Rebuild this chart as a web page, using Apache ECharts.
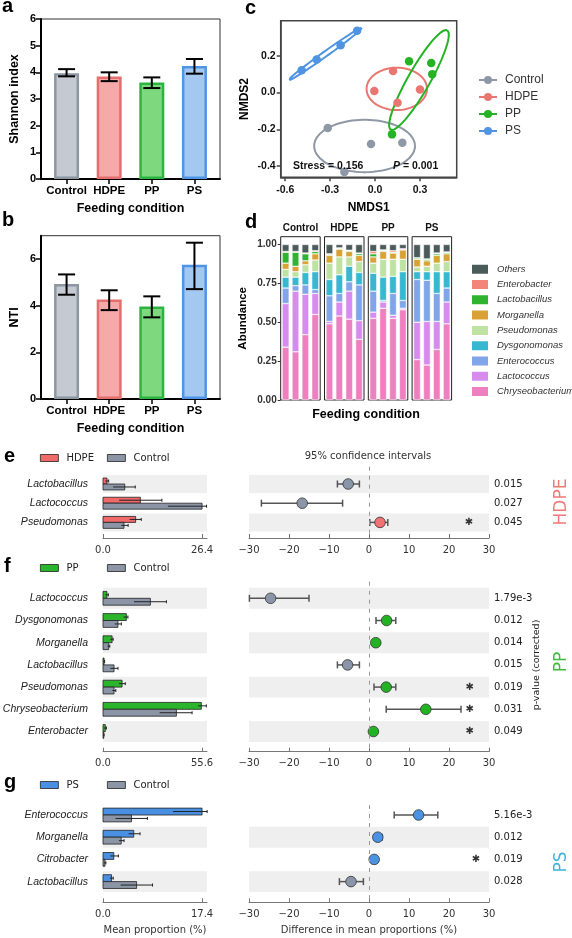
<!DOCTYPE html>
<html><head><meta charset="utf-8">
<script src="https://cdn.jsdelivr.net/npm/echarts@6/dist/echarts.min.js"></script>
<style>html,body{margin:0;padding:0;background:#fff}#c{width:572px;height:938px}</style>
</head><body><div id="c"></div>
<script>
// ---------------- DATA ----------------
const groups = ['Control', 'HDPE', 'PP', 'PS'];
// panel a
const shannonMean = [3.97, 3.84, 3.62, 4.24];
const shannonLo = [3.85, 3.67, 3.41, 3.95];
const shannonHi = [4.12, 4.00, 3.81, 4.50];
// panel b
const ntiMean = [4.93, 4.27, 3.97, 5.76];
const ntiLo = [4.47, 3.81, 3.50, 4.71];
const ntiHi = [5.34, 4.66, 4.40, 6.70];
// panel c (NMDS1, NMDS2)
const nmdsControl = [[-0.316, -0.192], [-0.027, -0.279], [0.182, -0.272], [-0.205, -0.431]];
const nmdsHDPE = [[-0.005, 0.009], [0.12, 0.117], [0.15, -0.056], [0.30, 0.016]];
const nmdsPP = [[0.227, 0.17], [0.375, 0.161], [0.382, 0.10], [0.113, -0.227]];
const nmdsPS = [[-0.49, 0.121], [-0.39, 0.18], [-0.23, 0.257], [-0.12, 0.335]];
// confidence ellipses: centre, conjugate semi-axis vectors (data units)
const ellCenter = [[-0.07, -0.29], [0.145, 0.02], [0.293, 0.068], [-0.333, 0.209]];
const ellAxisA = [[0.337, 0], [0.202, 0], [0.189, 0.270], [0.2445, 0.142]];
const ellAxisB = [[0, 0.142], [0, 0.115], [0.0637, -0.0296], [0.0097, -0.011]];
const stressText = 'Stress = 0.156';
const pText = ' = 0.001';
// panel d (4 samples per condition, Control, HDPE, PP, PS)
const dSamples = ['1', '2', '3', '4'];
const dGenera = ['Chryseobacterium', 'Lactococcus', 'Enterococcus', 'Dysgonomonas', 'Pseudomonas', 'Morganella', 'Lactobacillus', 'Enterobacter', 'Others'];
const dChryseobacterium = [.34, .31, .42, .55, .49, .54, .52, .39, .525, .59, .525, .58, .26, .225, .325, .49];
const dLactococcus = [.28, .39, .26, .135, .015, .09, .18, .12, .04, .04, .02, .01, .24, .28, .18, .14];
const dEnterococcus = [.10, .035, .06, .025, .165, .055, .06, .23, .135, .01, .14, .05, .275, .265, .18, .09];
const dDysgonomonas = [.07, .055, .08, .115, .105, .12, .10, .08, .115, .15, .11, .185, .05, .055, .14, .105];
const dPseudomonas = [.05, .035, .05, .075, .105, .115, .06, .07, .065, .115, .11, .08, .03, .035, .055, .065];
const dMorganella = [.04, .035, .025, .04, .05, .05, .035, .04, .04, .05, .04, .06, .05, .035, .05, .05];
const dLactobacillus = [.07, .09, .045, .015, .005, .005, .005, .012, .02, .005, .005, .003, .008, .01, .01, .008];
const dEnterobacter = [.005, .005, .005, .005, .005, .003, .003, .003, .015, .005, .01, .005, .002, .002, .005, .004];
const dOthers = [.045, .045, .055, .04, .06, .022, .037, .055, .045, .035, .04, .027, .085, .093, .055, .048];
const dYTicks = [0, 0.25, 0.5, 0.75, 1];
// panel e (HDPE vs Control)
const eRows = ['Lactobacillus', 'Lactococcus', 'Pseudomonas'];
const eTreat = [1.07, 9.96, 8.7], eTreatLo = [0.6, 4.3, 7.1], eTreatHi = [1.5, 15.7, 10.2];
const eCtrl = [5.8, 26.4, 5.6], eCtrlLo = [2.7, 17.3, 4.9], eCtrlHi = [8.6, 27.6, 6.7];
const eDiff = [-5.2, -16.7, 2.75], eDiffLo = [-7.9, -26.9, 0.2], eDiffHi = [-2.4, -6.6, 4.7];
const ePval = ['0.015', '0.027', '0.045'];
const eStar = [null, null, 25];
const eShade = [1, 0, 1];
const eAxisMax = 26.4;
// panel f (PP vs Control)
const fRows = ['Lactococcus', 'Dysgonomonas', 'Morganella', 'Lactobacillus', 'Pseudomonas', 'Chryseobacterium', 'Enterobacter'];
const fTreat = [2.2, 13.1, 5.1, 0.6, 10.7, 55.2, 1.3], fTreatLo = [1.4, 11.6, 4.1, 0.3, 9.0, 53.4, 0.6], fTreatHi = [3.0, 14.0, 5.7, 0.9, 12.5, 58.0, 1.9];
const fCtrl = [26.6, 8.4, 3.2, 6.2, 6.2, 41.2, 0.4], fCtrlLo = [17.4, 6.6, 2.5, 4.1, 5.3, 31.8, 0.2], fCtrlHi = [35.6, 10.3, 3.8, 8.4, 7.2, 50.0, 0.6];
const fDiff = [-24.6, 4.4, 1.7, -5.35, 4.3, 14.2, 1.1], fDiffLo = [-29.9, 1.75, 1.2, -7.9, 1.25, 4.3, 0.8], fDiffHi = [-15.0, 6.7, 2.2, -2.4, 6.7, 23.0, 1.4];
const fPval = ['1.79e-3', '0.012', '0.014', '0.015', '0.019', '0.031', '0.049'];
const fStar = [null, null, null, null, 25.2, 25.2, 25.2];
const fShade = [1, 0, 1, 0, 1, 0, 1];
const fAxisMax = 55.6;
// panel g (PS vs Control)
const gRows = ['Enterococcus', 'Morganella', 'Citrobacter', 'Lactobacillus'];
const gTreat = [17.4, 5.4, 1.9, 1.5], gTreatLo = [12.3, 4.5, 1.3, 1.2], gTreatHi = [18.3, 6.5, 2.7, 1.8];
const gCtrl = [5.0, 3.2, 0.35, 5.9], gCtrlLo = [2.2, 2.8, 0.2, 3.1], gCtrlHi = [7.8, 3.7, 0.5, 8.7];
const gDiff = [12.4, 2.2, 1.3, -4.5], gDiffLo = [6.3, 1.3, 1.0, -7.4], gDiffHi = [17.2, 3.3, 1.6, -1.4];
const gPval = ['5.16e-3', '0.012', '0.019', '0.028'];
const gStar = [null, null, 26.75, null];
const gShade = [0, 1, 0, 1];
const gAxisMax = 17.4;
const ciTicks = [-30, -20, -10, 0, 10, 20, 30];

// ---------------- STYLE / LAYOUT ----------------
const AR = 'Arial, "Liberation Sans", Helvetica, sans-serif';
const DV = '"DejaVu Sans", Verdana, sans-serif';
const fills = ['#c5c9d1', '#f5a9a8', '#7dd87e', '#a5c8f3'];
const edges = ['#8d96a3', '#e36f6e', '#2bb441', '#4e95e6'];
const cColors = ['#8f98a6', '#ea7672', '#25b225', '#4f94e2'];
const dColors = {Chryseobacterium: '#ee80c0', Lactococcus: '#d68cef', Enterococcus: '#80a5e9', Dysgonomonas: '#38b7d1', Pseudomonas: '#bde2a1', Morganella: '#d8a234', Lactobacillus: '#2fb42f', Enterobacter: '#f4847a', Others: '#4b5b5a'};
const ctrlBar = '#8c95a6';

const grids = [], xAxes = [], yAxes = [], series = [], legends = [], graphics = [];
function addGrid(g) { g.outerBoundsMode = 'none'; g.containLabel = false; grids.push(g); return grids.length - 1; }

// ---------- panels a & b ----------
function barPanel(top, height, mean, lo, hi, yMax, yTicks, yName) {
  const gi = addGrid({left: 41, top: top, width: 179, height: height, show: true, borderColor: '#333', borderWidth: 1});
  xAxes.push({type: 'value', gridIndex: gi, min: -0.6, max: 3.6,
    axisLine: {show: true, onZero: false, lineStyle: {color: '#000', width: 2}}, splitLine: {show: false},
    axisTick: {show: true, customValues: [0, 1, 2, 3], length: 5, lineStyle: {color: '#000', width: 1.5}},
    axisLabel: {customValues: [0, 1, 2, 3], formatter: v => groups[Math.round(v)], fontFamily: AR, fontWeight: 'bold', fontSize: 11.5, color: '#000', margin: 6},
    name: 'Feeding condition', nameLocation: 'middle', nameGap: 23, nameTextStyle: {fontFamily: AR, fontWeight: 'bold', fontSize: 12.5, color: '#000'}});
  const xi = xAxes.length - 1;
  yAxes.push({type: 'value', gridIndex: gi, min: 0, max: yMax,
    axisLine: {show: true, onZero: false, lineStyle: {color: '#000', width: 2}}, splitLine: {show: false},
    axisTick: {show: true, customValues: yTicks, length: 5, lineStyle: {color: '#000', width: 1.5}},
    axisLabel: {customValues: yTicks, fontFamily: AR, fontWeight: 'bold', fontSize: 11, color: '#000', margin: 5},
    name: yName, nameLocation: 'middle', nameGap: 20, nameTextStyle: {fontFamily: AR, fontWeight: 'bold', fontSize: 12.5, color: '#000'}});
  const yi = yAxes.length - 1;
  series.push({type: 'bar', xAxisIndex: xi, yAxisIndex: yi, barWidth: 25, z: 2,
    data: mean.map((v, i) => ({value: [i, v], itemStyle: {color: fills[i], borderColor: edges[i], borderWidth: 2.5}}))});
  series.push({type: 'custom', xAxisIndex: xi, yAxisIndex: yi, z: 5,
    data: mean.map((v, i) => [i, lo[i], hi[i]]),
    encode: {x: 0, y: [1, 2]},
    renderItem: (p, api) => {
      const a = api.coord([api.value(0), api.value(1)]);
      const b = api.coord([api.value(0), api.value(2)]);
      const w = 8.5;
      const st = {stroke: '#000', lineWidth: 2};
      return {type: 'group', children: [
        {type: 'line', shape: {x1: a[0], y1: a[1], x2: b[0], y2: b[1]}, style: st},
        {type: 'line', shape: {x1: a[0] - w, y1: a[1], x2: a[0] + w, y2: a[1]}, style: st},
        {type: 'line', shape: {x1: b[0] - w, y1: b[1], x2: b[0] + w, y2: b[1]}, style: st}]};
    }});
}
barPanel(19, 160, shannonMean, shannonLo, shannonHi, 6, [0, 1, 2, 3, 4, 5, 6], 'Shannon index');
barPanel(235.7, 163.3, ntiMean, ntiLo, ntiHi, 7, [0, 2, 4, 6], 'NTI');

// ---------- panel c ----------
(function () {
  const gi = addGrid({left: 280.7, top: 20.7, width: 176, height: 156.6, show: true, borderColor: '#444', borderWidth: 1.5});
  const ticksX = [-0.6, -0.3, 0, 0.3], ticksY = [-0.4, -0.2, 0, 0.2];
  xAxes.push({type: 'value', gridIndex: gi, min: -0.63, max: 0.545,
    axisLine: {show: true, onZero: false, lineStyle: {color: '#444', width: 1.5}}, splitLine: {show: false},
    axisTick: {show: true, customValues: ticksX, length: 4, lineStyle: {color: '#444', width: 1.5}},
    axisLabel: {customValues: ticksX, formatter: v => v.toFixed(1), fontFamily: AR, fontWeight: 'bold', fontSize: 10.5, color: '#111', margin: 7},
    name: 'NMDS1', nameLocation: 'middle', nameGap: 24, nameTextStyle: {fontFamily: AR, fontWeight: 'bold', fontSize: 12, color: '#000'}});
  const xi = xAxes.length - 1;
  yAxes.push({type: 'value', gridIndex: gi, min: -0.46, max: 0.39,
    axisLine: {show: true, onZero: false, lineStyle: {color: '#444', width: 1.5}}, splitLine: {show: false},
    axisTick: {show: true, customValues: ticksY, length: 4, lineStyle: {color: '#444', width: 1.5}},
    axisLabel: {customValues: ticksY, formatter: v => v.toFixed(1), fontFamily: AR, fontWeight: 'bold', fontSize: 10.5, color: '#111', margin: 5},
    name: 'NMDS2', nameLocation: 'middle', nameGap: 30, nameTextStyle: {fontFamily: AR, fontWeight: 'bold', fontSize: 12, color: '#000'}});
  const yi = yAxes.length - 1;
  const pts = [nmdsControl, nmdsHDPE, nmdsPP, nmdsPS];
  groups.forEach((g, k) => {
    const c = ellCenter[k], A = ellAxisA[k], B = ellAxisB[k], ring = [];
    for (let s = 0; s <= 90; s++) {
      const t = s / 90 * 2 * Math.PI;
      ring.push([c[0] + A[0] * Math.cos(t) + B[0] * Math.sin(t), c[1] + A[1] * Math.cos(t) + B[1] * Math.sin(t)]);
    }
    series.push({type: 'line', name: g, xAxisIndex: xi, yAxisIndex: yi, data: ring, showSymbol: false, symbol: 'circle', symbolSize: 8,
      lineStyle: {color: cColors[k], width: 2}, itemStyle: {color: cColors[k]}, z: 3});
    series.push({type: 'scatter', name: 'c-' + g, xAxisIndex: xi, yAxisIndex: yi, data: pts[k], symbolSize: 8.5,
      itemStyle: {color: cColors[k], opacity: 1}, z: 4});
  });
  legends.push({orient: 'vertical', left: 478, top: 74, padding: 0, itemWidth: 18, itemHeight: 10, itemGap: 5,
    data: groups, textStyle: {fontFamily: AR, fontSize: 12, color: '#333', padding: [0, 0, 0, 3]}});
})();

// ---------- panel d ----------
(function () {
  const lefts = [280.7, 324.5, 368.3, 412.1];
  const dMap = {Chryseobacterium: dChryseobacterium, Lactococcus: dLactococcus, Enterococcus: dEnterococcus, Dysgonomonas: dDysgonomonas,
    Pseudomonas: dPseudomonas, Morganella: dMorganella, Lactobacillus: dLactobacillus, Enterobacter: dEnterobacter, Others: dOthers};
  groups.forEach((g, f) => {
    const gi = addGrid({left: lefts[f], top: 236.7, width: 39.5, height: 163.3, show: true, borderColor: '#222', borderWidth: 1});
    xAxes.push({type: 'category', gridIndex: gi, data: dSamples, position: 'top',
      axisLine: {show: false}, axisTick: {show: false}, axisLabel: {show: false},
      name: g, nameLocation: 'middle', nameGap: 3, nameTextStyle: {fontFamily: AR, fontWeight: 'bold', fontSize: 10, color: '#111'}});
    const xi = xAxes.length - 1;
    const yax = {type: 'value', gridIndex: gi, min: 0, max: 1.05, splitLine: {show: false}, axisLine: {show: false, onZero: false}};
    if (f === 0) {
      Object.assign(yax, {axisTick: {show: true, customValues: dYTicks, length: 3, lineStyle: {color: '#333'}},
        axisLabel: {customValues: dYTicks, formatter: v => v.toFixed(2), fontFamily: AR, fontWeight: 'bold', fontSize: 10, color: '#333', margin: 4},
        name: 'Abundance', nameLocation: 'middle', nameGap: 32, nameTextStyle: {fontFamily: AR, fontWeight: 'bold', fontSize: 11.5, color: '#000'}});
    } else {
      Object.assign(yax, {axisTick: {show: false}, axisLabel: {show: false}});
    }
    yAxes.push(yax);
    const yi = yAxes.length - 1;
    dGenera.forEach(gen => {
      series.push({type: 'bar', name: gen, xAxisIndex: xi, yAxisIndex: yi, stack: 'd' + f, barWidth: 7,
        data: dMap[gen].slice(f * 4, f * 4 + 4),
        itemStyle: {color: dColors[gen], borderColor: '#fff', borderWidth: 0.5}});
    });
  });
  legends.push({orient: 'vertical', left: 470, top: 262.7, padding: 0, itemWidth: 18, itemHeight: 11, itemGap: 2.3, icon: 'rect',
    data: dGenera.slice().reverse(), textStyle: {fontFamily: AR, fontStyle: 'italic', fontSize: 9.5, color: '#333', padding: [0, 0, 0, 3]}});
  graphics.push({type: 'text', x: 366, y: 415, style: {text: 'Feeding condition', fontFamily: AR, fontWeight: 'bold', fontSize: 12.5, fill: '#000', align: 'center', verticalAlign: 'middle'}});
})();

// ---------- panels e, f, g ----------
function diffPanel(key, P) {
  const n = P.rows.length;
  const yMin = (P.top - P.c0) / P.sp, yMax = (P.bottom - P.c0) / P.sp;
  const idx = P.rows.map((r, i) => i);
  const gb = addGrid({left: 103, width: 104, top: P.top, height: P.bottom - P.top});
  const gc = addGrid({left: 249, width: 240, top: P.top, height: P.bottom - P.top});
  const axCol = '#777';
  xAxes.push({type: 'value', gridIndex: gb, min: 0, max: P.axisMax * 1.05, splitLine: {show: false},
    axisLine: {show: true, onZero: false, lineStyle: {color: axCol, width: 1}},
    axisTick: {show: true, inside: true, length: 4, customValues: [0, P.axisMax], lineStyle: {color: axCol}},
    axisLabel: {customValues: [0, P.axisMax], formatter: v => v.toFixed(1), fontFamily: DV, fontSize: 10, color: '#333', margin: 7},
    name: P.last ? 'Mean proportion (%)' : '', nameLocation: 'middle', nameGap: 23, nameTextStyle: {fontFamily: DV, fontSize: 10, color: '#333'}});
  const xb = xAxes.length - 1;
  xAxes.push({type: 'value', gridIndex: gc, min: -30, max: 30, splitLine: {show: false},
    axisLine: {show: true, onZero: false, lineStyle: {color: axCol, width: 1}},
    axisTick: {show: true, inside: true, length: 4, customValues: ciTicks, lineStyle: {color: axCol}},
    axisLabel: {customValues: ciTicks, formatter: v => v < 0 ? '\u2212' + Math.abs(v) : String(v), fontFamily: DV, fontSize: 10, color: '#333', margin: 7},
    name: P.last ? 'Difference in mean proportions (%)' : '', nameLocation: 'middle', nameGap: 23, nameTextStyle: {fontFamily: DV, fontSize: 10, color: '#333'}});
  const xc = xAxes.length - 1;
  yAxes.push({type: 'value', gridIndex: gb, inverse: true, min: yMin, max: yMax, splitLine: {show: false},
    axisLine: {show: false, onZero: false}, axisTick: {show: false},
    axisLabel: {customValues: idx, formatter: v => P.rows[Math.round(v)], fontFamily: AR, fontStyle: 'italic', fontSize: 10.5, color: '#222', margin: 15}});
  const yb = yAxes.length - 1;
  yAxes.push({type: 'value', gridIndex: gc, position: 'right', inverse: true, min: yMin, max: yMax, splitLine: {show: false},
    axisLine: {show: false, onZero: false}, axisTick: {show: false},
    axisLabel: {customValues: idx, formatter: v => P.pval[Math.round(v)], fontFamily: DV, fontSize: 10, color: '#222', margin: 5}});
  const yc = yAxes.length - 1;

  const bandRender = (p, api) => {
    const cs = p.coordSys;
    const c = api.coord([0, api.value(1)]);
    const h = api.size([0, 1])[1] * 0.94;
    return {type: 'rect', shape: {x: cs.x, y: c[1] - h / 2, width: cs.width, height: h}, style: {fill: '#efefef'}};
  };
  const bandData = idx.filter(i => P.shade[i]).map(i => [0, i]);
  series.push({type: 'custom', xAxisIndex: xb, yAxisIndex: yb, z: 0, silent: true, data: bandData, renderItem: bandRender});
  series.push({type: 'custom', xAxisIndex: xc, yAxisIndex: yc, z: 0, silent: true, data: bandData, renderItem: bandRender,
    markLine: {silent: true, symbol: 'none', label: {show: false}, lineStyle: {color: '#999', type: [4, 5], width: 1}, data: [{xAxis: 0}]}});

  const barRender = (side, color) => (p, api) => {
    const v = api.value(0), r = api.value(1), lo = api.value(2), hi = api.value(3);
    const h = api.size([0, 1])[1] * 0.31;
    const c0 = api.coord([0, r]), c1 = api.coord([v, r]);
    const y0 = side === 0 ? c0[1] - h : c0[1];
    const ym = y0 + h / 2;
    const pl = api.coord([lo, r])[0], ph = api.coord([hi, r])[0];
    const ls = {stroke: '#222', lineWidth: 1};
    return {type: 'group', children: [
      {type: 'rect', shape: {x: c0[0], y: y0, width: c1[0] - c0[0], height: h}, style: {fill: color, stroke: '#222', lineWidth: 0.8}},
      {type: 'line', shape: {x1: pl, y1: ym, x2: ph, y2: ym}, style: ls},
      {type: 'line', shape: {x1: ph, y1: ym - 1.5, x2: ph, y2: ym + 1.5}, style: ls}]};
  };
  series.push({type: 'custom', name: key + 'T', xAxisIndex: xb, yAxisIndex: yb, z: 3, itemStyle: {color: P.tColor},
    data: idx.map(i => [P.treat[i], i, P.treatLo[i], P.treatHi[i]]), renderItem: barRender(0, P.tColor)});
  series.push({type: 'custom', name: key + 'C', xAxisIndex: xb, yAxisIndex: yb, z: 3, itemStyle: {color: ctrlBar},
    data: idx.map(i => [P.ctrl[i], i, P.ctrlLo[i], P.ctrlHi[i]]), renderItem: barRender(1, ctrlBar)});

  series.push({type: 'custom', xAxisIndex: xc, yAxisIndex: yc, z: 4,
    data: idx.map(i => [P.diff[i], i, P.diffLo[i], P.diffHi[i]]),
    renderItem: (p, api) => {
      const d = api.value(0), r = api.value(1);
      const c = api.coord([d, r]);
      const pl = api.coord([api.value(2), r])[0], ph = api.coord([api.value(3), r])[0];
      const ls = {stroke: '#555', lineWidth: 1.5};
      return {type: 'group', children: [
        {type: 'line', shape: {x1: pl, y1: c[1], x2: ph, y2: c[1]}, style: ls},
        {type: 'line', shape: {x1: pl, y1: c[1] - 3.5, x2: pl, y2: c[1] + 3.5}, style: ls},
        {type: 'line', shape: {x1: ph, y1: c[1] - 3.5, x2: ph, y2: c[1] + 3.5}, style: ls},
        {type: 'circle', shape: {cx: c[0], cy: c[1], r: 5.3}, style: {fill: d < 0 ? P.dotCtrl : P.dotColor, stroke: '#333', lineWidth: 0.8}}]};
    }});
  series.push({type: 'custom', xAxisIndex: xc, yAxisIndex: yc, z: 4,
    data: idx.filter(i => P.star[i] != null).map(i => [P.star[i], i]),
    renderItem: (p, api) => {
      const c = api.coord([api.value(0), api.value(1)]);
      return {type: 'text', x: c[0], y: c[1], style: {text: '\u2731', fontFamily: DV, fontSize: 10, fill: '#333', align: 'center', verticalAlign: 'middle'}};
    }});

  const lt = {fontFamily: DV, fontSize: 10, color: '#222', padding: [0, 0, 0, 3]};
  legends.push({left: 40, top: P.legTop, padding: 0, itemWidth: 18, itemHeight: 7, icon: 'rect', formatter: () => P.tName, textStyle: lt,
    data: [{name: key + 'T', itemStyle: {color: P.tColor, borderColor: '#222', borderWidth: 0.8}}]});
  legends.push({left: 107, top: P.legTop, padding: 0, itemWidth: 18, itemHeight: 7, icon: 'rect', formatter: () => 'Control', textStyle: lt,
    data: [{name: key + 'C', itemStyle: {color: ctrlBar, borderColor: '#222', borderWidth: 0.8}}]});
}
diffPanel('e', {rows: eRows, treat: eTreat, treatLo: eTreatLo, treatHi: eTreatHi, ctrl: eCtrl, ctrlLo: eCtrlLo, ctrlHi: eCtrlHi,
  diff: eDiff, diffLo: eDiffLo, diffHi: eDiffHi, pval: ePval, star: eStar, shade: eShade, axisMax: eAxisMax,
  top: 466.7, bottom: 538, c0: 484, sp: 19.2, tName: 'HDPE', tColor: '#f06a6a', dotColor: '#f07272', dotCtrl: '#8a96a8', legTop: 453, last: false});
diffPanel('f', {rows: fRows, treat: fTreat, treatLo: fTreatLo, treatHi: fTreatHi, ctrl: fCtrl, ctrlLo: fCtrlLo, ctrlHi: fCtrlHi,
  diff: fDiff, diffLo: fDiffLo, diffHi: fDiffHi, pval: fPval, star: fStar, shade: fShade, axisMax: fAxisMax,
  top: 581.7, bottom: 751.7, c0: 598.3, sp: 22.2, tName: 'PP', tColor: '#2cb52c', dotColor: '#22b322', dotCtrl: '#8a96a8', legTop: 563, last: false});
diffPanel('g', {rows: gRows, treat: gTreat, treatLo: gTreatLo, treatHi: gTreatHi, ctrl: gCtrl, ctrlLo: gCtrlLo, ctrlHi: gCtrlHi,
  diff: gDiff, diffLo: gDiffLo, diffHi: gDiffHi, pval: gPval, star: gStar, shade: gShade, axisMax: gAxisMax,
  top: 805, bottom: 902.3, c0: 815, sp: 22.2, tName: 'PS', tColor: '#4a90e2', dotColor: '#4a92e4', dotCtrl: '#8a96a8', legTop: 780, last: true});

// ---------- free text ----------
const letter = (t, x, y) => graphics.push({type: 'text', x: x, y: y, style: {text: t, fontFamily: AR, fontWeight: 'bold', fontSize: 20, fill: '#000', verticalAlign: 'middle'}});
letter('a', 2, 6); letter('b', 2, 220); letter('c', 245, 8); letter('d', 245, 222);
letter('e', 4, 456); letter('f', 4, 566); letter('g', 4, 782);
graphics.push({type: 'text', x: 293, y: 166, z: 10, style: {text: stressText, fontFamily: AR, fontWeight: 'bold', fontSize: 10.5, fill: '#111', verticalAlign: 'middle'}});
graphics.push({type: 'text', x: 393, y: 166, z: 10, style: {text: '{i|P}{n|' + pText + '}', verticalAlign: 'middle',
  rich: {i: {fontFamily: AR, fontWeight: 'bold', fontStyle: 'italic', fontSize: 10.5, fill: '#111'}, n: {fontFamily: AR, fontWeight: 'bold', fontSize: 10.5, fill: '#111'}}}});
graphics.push({type: 'text', x: 368, y: 456, style: {text: '95% confidence intervals', fontFamily: DV, fontSize: 10, fill: '#333', align: 'center', verticalAlign: 'middle'}});
graphics.push({type: 'text', x: 537, y: 665, rotation: Math.PI / 2, style: {text: 'p-value (corrected)', fontFamily: DV, fontSize: 9.5, fill: '#222', align: 'center', verticalAlign: 'middle'}});
const side = (t, y, col) => graphics.push({type: 'text', x: 562, y: y, rotation: Math.PI / 2, style: {text: t, fontFamily: DV, fontSize: 17, fill: col, align: 'center', verticalAlign: 'middle'}});
side('HDPE', 502, '#ee7a78'); side('PP', 662, '#3dbb3d'); side('PS', 862, '#3cb5dc');

const chart = echarts.init(document.getElementById('c'), null, {renderer: 'canvas', width: 572, height: 938});
chart.setOption({animation: false, backgroundColor: '#fff', grid: grids, xAxis: xAxes, yAxis: yAxes, series: series, legend: legends, graphic: graphics});
</script>
</body></html>
